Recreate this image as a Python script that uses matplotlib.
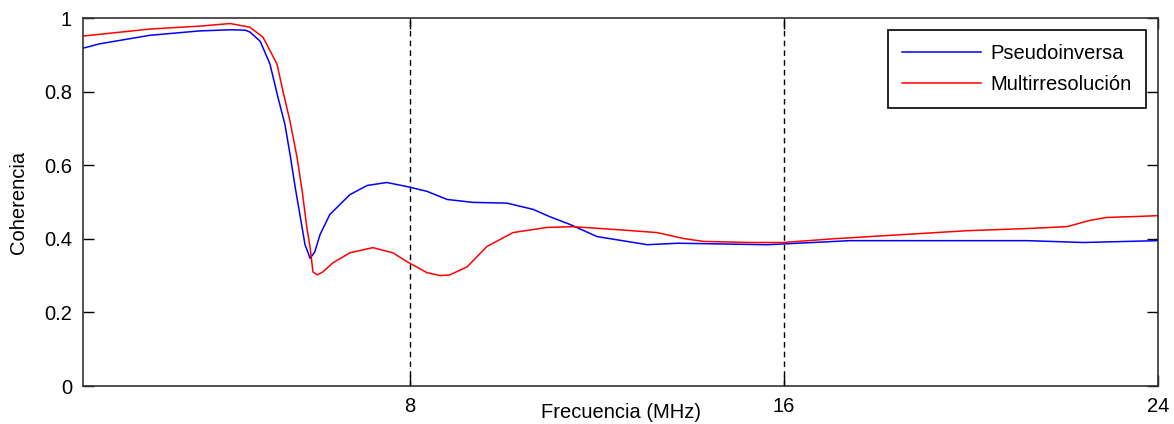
import numpy as np
import matplotlib
matplotlib.use('Agg')
import matplotlib.pyplot as plt

# frecuencia (MHz) y coherencia
f_pseudo = [1.00, 1.36, 2.43, 3.50, 4.15, 4.47, 4.57, 4.79, 5.00, 5.17, 5.32, 5.43,
            5.54, 5.64, 5.75, 5.86, 5.96, 6.07, 6.28, 6.71, 7.08, 7.50, 7.93, 8.36,
            8.79, 9.34, 10.07, 10.63, 10.99, 11.42, 12.00, 12.49, 13.07, 13.73,
            15.63, 15.98, 17.41, 21.20, 22.40, 24.00]
c_pseudo = [0.918, 0.930, 0.953, 0.965, 0.968, 0.967, 0.962, 0.937, 0.875, 0.785, 0.711, 0.629,
            0.540, 0.466, 0.384, 0.347, 0.365, 0.411, 0.466, 0.520, 0.545, 0.553, 0.542, 0.529,
            0.507, 0.499, 0.497, 0.480, 0.460, 0.439, 0.406, 0.396, 0.384, 0.388,
            0.384, 0.386, 0.395, 0.395, 0.390, 0.395]

f_multi = [1.00, 2.43, 3.50, 4.15, 4.57, 4.85, 5.15, 5.28, 5.43, 5.58, 5.69, 5.79,
           5.86, 5.92, 6.01, 6.13, 6.35, 6.71, 7.20, 7.63, 7.93, 8.36, 8.64, 8.85,
           9.22, 9.64, 10.20, 10.93, 11.48, 12.42, 13.28, 13.84, 14.27, 15.27,
           15.98, 17.05, 18.48, 19.91, 21.20, 22.05, 22.54, 22.90, 23.61, 24.00]
c_multi = [0.951, 0.970, 0.978, 0.985, 0.975, 0.948, 0.875, 0.800, 0.719, 0.621, 0.529, 0.430,
           0.376, 0.310, 0.302, 0.310, 0.335, 0.362, 0.376, 0.362, 0.338, 0.308, 0.300, 0.302,
           0.324, 0.379, 0.417, 0.431, 0.433, 0.425, 0.417, 0.401, 0.393, 0.390,
           0.390, 0.400, 0.411, 0.422, 0.428, 0.433, 0.450, 0.458, 0.461, 0.463]

series = ['Pseudoinversa', 'Multirresolución']
xticks = [8, 16, 24]
yticks = [0, 0.2, 0.4, 0.6, 0.8, 1]
ytick_labels = ['0', '0.2', '0.4', '0.6', '0.8', '1']

plt.rcParams['font.family'] = ['Liberation Sans', 'DejaVu Sans']
fs = 14.5

fig = plt.figure(figsize=(11.74, 4.24), dpi=100)
ax = fig.add_axes([0.0707, 0.0896, 0.9157, 0.8679])

ax.plot(f_pseudo, c_pseudo, color='#0000ff', lw=1.1, label=series[0])
ax.plot(f_multi, c_multi, color='#ff0000', lw=1.1, label=series[1])

ax.set_xlim(1, 24)
ax.set_ylim(0, 1)
ax.set_xticks(xticks)
ax.set_yticks(yticks)
ax.set_yticklabels(ytick_labels)
ax.tick_params(direction='in', length=8, width=1, labelsize=fs, top=True, right=True,
               colors='black', pad=8)
ax.xaxis.grid(True, linestyle=(0, (4, 3)), color='black', lw=1)
for s in ax.spines.values():
    s.set_linewidth(1.2)
    s.set_color('#333333')

ax.set_xlabel('Frecuencia (MHz)', fontsize=fs)
ax.set_ylabel('Coherencia', fontsize=fs)
ax.xaxis.set_label_coords(0.5, -0.045)
ax.yaxis.set_label_coords(-0.051, 0.5)

leg = ax.legend(loc='upper right', fontsize=fs, fancybox=False, framealpha=1,
                edgecolor='black', handlelength=3.9, handletextpad=0.5,
                labelspacing=0.6, borderpad=0.7, borderaxespad=0.6)
leg.get_frame().set_linewidth(1.2)

fig.savefig('out.png', dpi=100)
